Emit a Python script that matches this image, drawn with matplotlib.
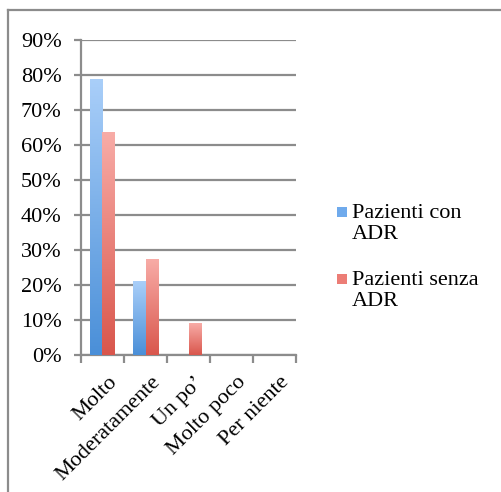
import numpy as np
import matplotlib.pyplot as plt
import matplotlib.transforms as mtransforms
from matplotlib.colors import LinearSegmentedColormap
from matplotlib.patches import Rectangle
from matplotlib.lines import Line2D

# Data
categories = ['Molto', 'Moderatamente', 'Un po’', 'Molto poco', 'Per niente']
con_adr = [0.789, 0.211, 0.0, 0.0, 0.0]
senza_adr = [0.636, 0.273, 0.091, 0.0, 0.0]
series_names = ['Pazienti con\nADR', 'Pazienti senza\nADR']
yticks = np.arange(0, 1.0, 0.1)

plt.rcParams['font.family'] = ['Liberation Serif', 'DejaVu Serif']

W, H = 502, 492
fig = plt.figure(figsize=(W / 100, H / 100), dpi=100)
grey = '#8c8c8c'

# outer frame (top and left edges only visible)
fig.add_artist(Line2D([8 / W, 8 / W], [0, 1 - 10 / H], transform=fig.transFigure, color=grey, lw=1.6))
fig.add_artist(Line2D([8 / W, 1], [1 - 10 / H, 1 - 10 / H], transform=fig.transFigure, color=grey, lw=1.6))

ax = fig.add_axes([81 / W, (H - 355) / H, (296 - 81) / W, (355 - 40) / H])

x = np.arange(len(categories))
bw = 0.28
bars_blue = ax.bar(x - bw / 2, con_adr, bw, color='none', zorder=3)
bars_red = ax.bar(x + bw / 2, senza_adr, bw, color='none', zorder=3)

cm_blue = LinearSegmentedColormap.from_list('b', ['#4a8fd8', '#aacff9'])
cm_red = LinearSegmentedColormap.from_list('r', ['#d9564c', '#f8aca7'])
grad = np.linspace(0, 1, 256).reshape(-1, 1)
for bars, cm in ((bars_blue, cm_blue), (bars_red, cm_red)):
    for b in bars:
        h = b.get_height()
        if h <= 0:
            continue
        x0 = b.get_x()
        im = ax.imshow(grad, cmap=cm, origin='lower', aspect='auto',
                       extent=(x0, x0 + b.get_width(), 0, h), zorder=3)
        im.set_clip_path(b)

ax.set_xlim(-0.5, len(categories) - 0.5)
ax.set_ylim(0, 0.9)
ax.set_yticks(yticks)
ax.set_yticklabels([f'{int(round(v * 100))}%' for v in yticks], fontsize=16)
ax.set_xticks(np.arange(len(categories) + 1) - 0.5, minor=False)
ax.set_xticklabels([])
ax.set_xticks(x, minor=True)
ax.set_xticklabels(categories, minor=True, rotation=45, ha='right',
                   rotation_mode='anchor', fontsize=16)
ax.tick_params(axis='x', which='minor', length=0, pad=13)
ax.tick_params(axis='x', which='major', length=6, width=1.6, color=grey, direction='out')
ax.tick_params(axis='y', length=5, width=1.6, color=grey, pad=9)
ax.grid(axis='y', color=grey, lw=1.6, zorder=1)
ax.set_axisbelow(True)
for s in ('top', 'right'):
    ax.spines[s].set_visible(False)
for s in ('left', 'bottom'):
    ax.spines[s].set_color(grey)
    ax.spines[s].set_linewidth(1.6)
shift = mtransforms.ScaledTranslation(5 / 100, 0, fig.dpi_scale_trans)
for lbl in ax.get_xticklabels(minor=True):
    lbl.set_transform(lbl.get_transform() + shift)

# legend drawn manually
legend_colors = ['#6faaec', '#ec7d76']
legend_tops = [207, 274]
for name, col, top in zip(series_names, legend_colors, legend_tops):
    fig.add_artist(Rectangle((337 / W, 1 - (top + 10) / H), 10 / W, 10 / H,
                             transform=fig.transFigure, color=col, lw=0))
    fig.text(352 / W, 1 - (top - 3) / H, name, fontsize=16, va='top', ha='left',
             linespacing=1.12)

fig.savefig('out.png', dpi=100)
